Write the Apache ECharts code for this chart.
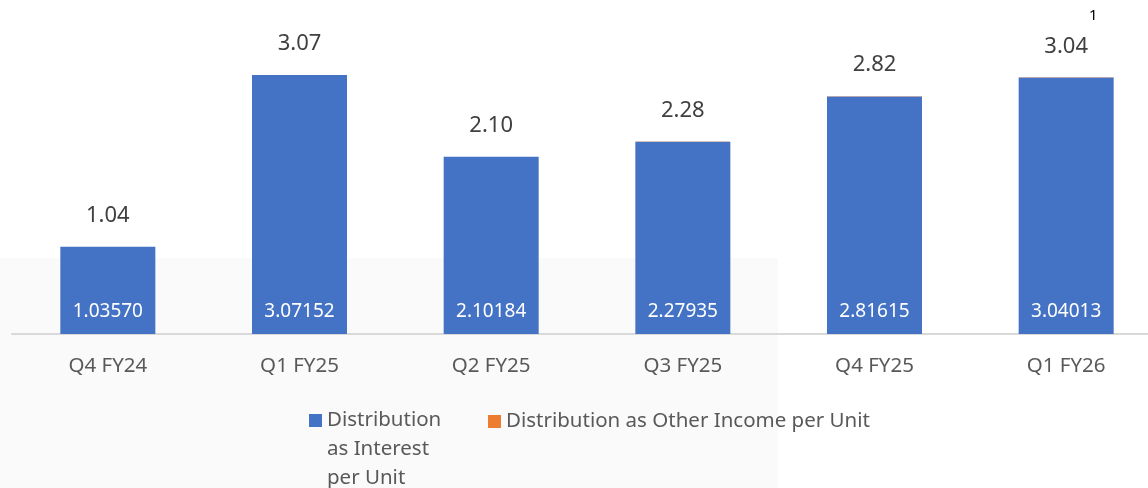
<!DOCTYPE html>
<html>
<head>
<meta charset="utf-8">
<script src="https://cdn.jsdelivr.net/npm/echarts@6/dist/echarts.min.js"></script>
<style>
  html, body { margin: 0; padding: 0; background: #fff; }
  #chart { width: 1148px; height: 488px; }
</style>
</head>
<body>
<div id="chart"></div>
<script>
// 季度分类
const quarters = ['Q4 FY24', 'Q1 FY25', 'Q2 FY25', 'Q3 FY25', 'Q4 FY25', 'Q1 FY26']
// 利息分配（每单位）
const interestPerUnit = [1.0357, 3.07152, 2.10184, 2.27935, 2.81615, 3.04013]
// 其他收入分配（每单位），图上只是一条细线
const otherIncomePerUnit = [0, 0, 0, 0.004, 0.004, 0.004]
const interestName = 'Distribution as Interest per Unit'
const otherName = 'Distribution as Other Income per Unit'

const font = 'Noto Sans'
const myChart = echarts.init(document.getElementById('chart'))

const option = {
  animation: false,
  textStyle: { fontFamily: font },
  // 网格右侧超出画布一点，和原图一致
  grid: { left: 12, width: 1150, top: 0, height: 334, outerBoundsMode: 'none' },
  xAxis: {
    type: 'category',
    data: quarters,
    axisTick: { show: false },
    axisLine: { lineStyle: { color: '#d9d9d9', width: 2 } },
    axisLabel: { color: '#595959', fontSize: 20.5, margin: 22, fontFamily: font }
  },
  yAxis: { type: 'value', min: 0, max: 3.96, show: false },
  legend: [
    {
      left: 309,
      top: 406,
      padding: 0,
      itemWidth: 13,
      itemHeight: 71,
      // 方块放在图标顶部，让它对齐第一行文字
      icon: 'path://M0,0H13V13H0Z M0,71H0.01V71.01H0Z',
      data: [interestName],
      formatter: () => 'Distribution\nas Interest\nper Unit',
      textStyle: { color: '#595959', fontSize: 20.5, lineHeight: 29, fontFamily: font }
    },
    {
      left: 488,
      top: 411,
      padding: 0,
      itemWidth: 13,
      itemHeight: 13,
      icon: 'rect',
      data: [otherName],
      textStyle: { color: '#595959', fontSize: 20.5, fontFamily: font }
    }
  ],
  graphic: [
    {
      type: 'rect',
      z: -10,
      shape: { x: 0, y: 258, width: 778, height: 230 },
      style: { fill: '#fafafa' }
    },
    {
      type: 'text',
      left: 1089,
      top: 8,
      style: { text: '1', fill: '#000', fontSize: 15, fontFamily: font }
    }
  ],
  series: [
    {
      name: interestName,
      type: 'bar',
      stack: 'total',
      barWidth: 95,
      itemStyle: { color: '#4472c4' },
      data: interestPerUnit,
      label: {
        show: true,
        position: 'insideBottom',
        distance: 13,
        color: '#fff',
        fontSize: 19,
        fontFamily: font,
        formatter: (p) => p.value.toFixed(5)
      }
    },
    {
      name: otherName,
      type: 'bar',
      stack: 'total',
      barWidth: 95,
      itemStyle: { color: '#ed7d31' },
      data: otherIncomePerUnit,
      label: {
        show: true,
        position: 'top',
        distance: 20,
        color: '#404040',
        fontSize: 22,
        fontFamily: font,
        formatter: (p) => (interestPerUnit[p.dataIndex] + otherIncomePerUnit[p.dataIndex]).toFixed(2)
      }
    }
  ]
}

myChart.setOption(option)
</script>
</body>
</html>
